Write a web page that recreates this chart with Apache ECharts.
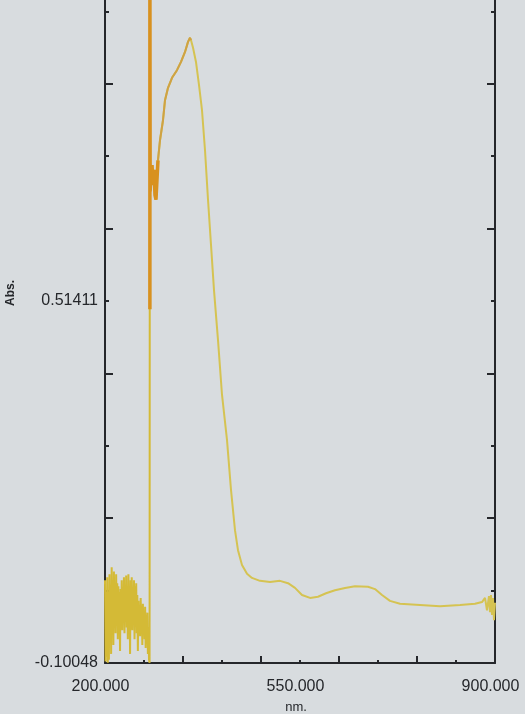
<!DOCTYPE html>
<html>
<head>
<meta charset="utf-8">
<script src="https://cdn.jsdelivr.net/npm/echarts@6/dist/echarts.min.js"></script>
<style>
  html, body { margin: 0; padding: 0; background: #d8dcdf; }
  #chart { width: 525px; height: 714px; }
</style>
</head>
<body>
<div id="chart"></div>
<script>
// Absorbance scan, 200–900 nm
const yRange = [-0.10048, 1.12870];
const yLabelValues = [-0.10048, 0.51411];
const xRange = [200, 900];
const xLabelValues = [200, 550, 900];

// deep-UV stretch (noisy, 1 nm steps)
const noiseNm = [
  200, 201, 202, 203, 204, 205, 206, 207, 208, 209,
  210, 211, 212, 213, 214, 215, 216, 217, 218, 219,
  220, 221, 222, 223, 224, 225, 226, 227, 228, 229,
  230, 231, 232, 233, 234, 235, 236, 237, 238, 239,
  240, 241, 242, 243, 244, 245, 246, 247, 248, 249,
  250, 251, 252, 253, 254, 255, 256, 257, 258, 259,
  260, 261, 262, 263, 264, 265, 266, 267, 268, 269,
  270, 271, 272, 273, 274, 275, 276, 277, 278, 279, 280
];
const noiseAbs = [
  0.040, -0.098, 0.020, -0.090, 0.045, -0.100, -0.020, -0.095, 0.050, -0.060,
  0.030, -0.085, 0.062, -0.040, 0.040, -0.070, 0.055, -0.030, 0.010, -0.050,
  0.050, -0.020, 0.035, -0.060, 0.030, -0.035, 0.020, -0.080, 0.025, -0.030,
  0.040, -0.045, 0.015, -0.025, 0.045, -0.050, 0.030, -0.020, 0.048, -0.040,
  0.020, -0.060, 0.050, -0.015, 0.030, -0.085, 0.040, -0.030, 0.045, -0.045,
  0.020, -0.030, 0.040, -0.060, 0.030, -0.020, 0.035, -0.050, 0.015, -0.080,
  0.005, -0.040, -0.005, -0.055, 0.010, -0.035, -0.010, -0.070, 0.000, -0.045,
  -0.015, -0.060, -0.005, -0.075, -0.020, -0.050, -0.015, -0.085, -0.040, -0.095, -0.100
];

// from the lamp changeover to 900 nm
const wavelength = [
  280.6, 281.0,
  282.6, 284.4, 286.2, 288.0, 289.7, 291.5, 293.3, 295.1, 298.7, 304.1,
  307.7, 313.1, 320.3, 329.2, 336.4, 343.6, 349.0, 352.6, 354.4, 358.0,
  363.3, 368.7, 374.1, 379.5, 384.9, 390.3, 395.6, 402.8, 410.0, 419.0,
  426.2, 433.3, 438.7, 445.9, 454.9, 463.8, 478.2, 496.2, 514.1, 528.5,
  541.0, 553.6, 568.0, 582.3, 596.7, 612.8, 630.8, 648.7, 672.1, 684.6,
  697.2, 711.5, 729.5, 765.4, 801.3, 837.2, 864.1, 876.7, 882.1, 885.6,
  889.2, 891.0, 892.8, 894.6, 896.4, 898.2, 900
];
const absorbance = [
  1.120, 0.700,
  0.728, 0.745, 0.711, 0.737, 0.694, 0.686, 0.720, 0.753, 0.787, 0.821,
  0.855, 0.876, 0.893, 0.906, 0.920, 0.937, 0.954, 0.961, 0.957, 0.944,
  0.920, 0.881, 0.838, 0.770, 0.686, 0.609, 0.533, 0.448, 0.355, 0.278,
  0.193, 0.125, 0.091, 0.066, 0.051, 0.044, 0.039, 0.037, 0.039, 0.035,
  0.027, 0.015, 0.010, 0.012, 0.018, 0.023, 0.027, 0.030, 0.029, 0.025,
  0.015, 0.005, 0.000, -0.002, -0.004, -0.002, 0.000, 0.003, 0.010, -0.011,
  0.013, -0.014, 0.015, -0.019, 0.010, -0.028, 0.002
];

// overdrawn trace at the changeover spike and on the rising edge
const spikeNm = [280.6, 280.6, 281.0, 282.6, 284.4, 286.2, 288.0, 289.7, 291.5, 293.3, 295.1];
const spikeAbs = [0.500, 1.120, 0.700, 0.728, 0.745, 0.711, 0.737, 0.694, 0.686, 0.720, 0.753];
const riseNm = [295.1, 298.7, 304.1, 307.7, 313.1, 320.3, 329.2, 336.4, 343.6, 349.0, 352.6, 354.4];
const riseAbs = [0.753, 0.787, 0.821, 0.855, 0.876, 0.893, 0.906, 0.920, 0.937, 0.954, 0.961, 0.957];

const pair = (xs, ys) => xs.map((x, i) => [x, ys[i]]);

// tick positions: 10 divisions on Abs., 70 nm steps on wavelength
const yStep = (yRange[1] - yRange[0]) / 10;
const yLong = [], yShort = [];
for (let k = 0; k <= 10; k++) (k % 2 ? yShort : yLong).push(yRange[0] + k * yStep);
const xLong = [], xShort = [];
for (let k = 0; k <= 10; k++) (k % 2 ? xShort : xLong).push(xRange[0] + k * 70);

const ink = '#25272b';
const font = 'Liberation Sans, Arial, sans-serif';

const baseAxis = (min, max) => ({
  type: 'value', min, max,
  splitLine: { show: false },
  axisLine: { show: true, onZero: false, lineStyle: { color: ink, width: 2 } }
});

const line = (data, color, width) => ({
  type: 'line', xAxisIndex: 0, yAxisIndex: 0,
  data, showSymbol: false, clip: true,
  lineStyle: { color, width }
});

const chart = echarts.init(document.getElementById('chart'), null, { renderer: 'canvas' });
chart.setOption({
  animation: false,
  backgroundColor: '#d8dcdf',
  grid: { left: 105, right: 30, top: -61, bottom: 51, outerBoundsMode: 'none', containLabel: false },
  xAxis: [
    Object.assign(baseAxis(xRange[0], xRange[1]), {
      position: 'bottom',
      axisTick: { show: true, inside: true, length: 7, customValues: xLong, lineStyle: { color: ink, width: 2 } },
      axisLabel: { show: false }
    }),
    Object.assign(baseAxis(xRange[0], xRange[1]), {
      position: 'bottom',
      axisLine: { show: false, onZero: false },
      axisTick: { show: true, inside: true, length: 3, customValues: xShort, lineStyle: { color: ink, width: 2 } },
      axisLabel: {
        show: true, customValues: xLabelValues, margin: 16,
        color: ink, fontFamily: font, fontSize: 16, padding: [0, 9, 0, 0],
        formatter: v => v.toFixed(3)
      },
      name: 'nm.', nameLocation: 'middle', nameGap: 38,
      nameTextStyle: { color: ink, fontFamily: font, fontSize: 13, padding: [0, 8, 0, 0] }
    })
  ],
  yAxis: [
    Object.assign(baseAxis(yRange[0], yRange[1]), {
      position: 'left',
      axisTick: { show: true, inside: true, length: 8, customValues: yLong, lineStyle: { color: ink, width: 2 } },
      axisLabel: { show: false }
    }),
    Object.assign(baseAxis(yRange[0], yRange[1]), {
      position: 'left',
      axisLine: { show: false, onZero: false },
      axisTick: { show: true, inside: true, length: 4, customValues: yShort, lineStyle: { color: ink, width: 2 } },
      axisLabel: {
        show: true, customValues: yLabelValues, margin: 7,
        color: ink, fontFamily: font, fontSize: 16,
        formatter: v => v.toFixed(5)
      },
      name: 'Abs.', nameLocation: 'middle', nameGap: 88, nameRotate: 90,
      nameTextStyle: { color: ink, fontFamily: font, fontSize: 12, fontWeight: 'bold', padding: [0, 0, 0, 16] }
    }),
    Object.assign(baseAxis(yRange[0], yRange[1]), {
      position: 'right',
      axisTick: { show: true, inside: true, length: 8, customValues: yLong, lineStyle: { color: ink, width: 2 } },
      axisLabel: { show: false }
    }),
    Object.assign(baseAxis(yRange[0], yRange[1]), {
      position: 'right',
      axisLine: { show: false, onZero: false },
      axisTick: { show: true, inside: true, length: 4, customValues: yShort, lineStyle: { color: ink, width: 2 } },
      axisLabel: { show: false }
    })
  ],
  series: [
    // noisy deep-UV part and the drop into the spike
    line(pair(noiseNm.concat([280.3, 280.6]), noiseAbs.concat([-0.100, 1.120])), '#d4ba36', 2),
    // main spectrum
    line(pair(wavelength, absorbance), '#d5c352', 2),
    // overdrawn stretches
    line(pair(riseNm, riseAbs), '#cfa244', 2),
    line(pair(spikeNm, spikeAbs), '#d8911f', 3.5)
  ]
});
</script>
</body>
</html>
